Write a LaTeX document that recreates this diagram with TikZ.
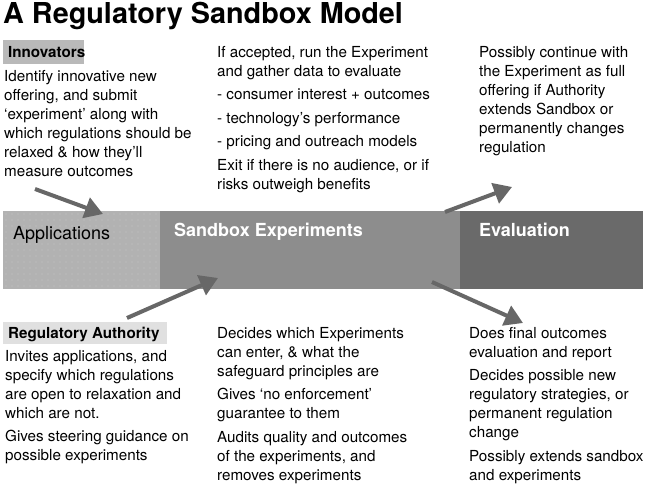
\documentclass[tikz,border=0pt]{standalone}
\usepackage{fontspec}
\setmainfont{TeX Gyre Heros}
\usetikzlibrary{arrows.meta,patterns.meta}
\definecolor{appgray}{HTML}{B2B2B2}
\definecolor{sbxgray}{HTML}{8D8D8D}
\definecolor{evlgray}{HTML}{6A6A6A}
\definecolor{arrgray}{HTML}{676767}
\definecolor{innovgray}{HTML}{B9B9B9}
\definecolor{reggray}{HTML}{E0E0E0}
\tikzset{
  body/.style={anchor=north west, inner sep=0pt, align=left, text=black,
    font=\fontsize{15.2}{19}\selectfont},
  lbl/.style={anchor=base west, inner sep=0pt, font=\fontsize{15.2}{19}\selectfont\bfseries},
  bandbox/.style={draw=none, anchor=north west, inner sep=0pt, minimum height=78pt},
  bandtxt/.style={anchor=base west, inner sep=0pt, font=\fontsize{18}{22}\selectfont},
  flow/.style={draw=arrgray, line width=4pt, -{Triangle[length=18pt,width=21pt]}},
  dotsfill/.style={pattern={Dots[distance=6pt,radius=0.45pt]}, pattern color=white!85!gray},
}
\begin{document}
\begin{tikzpicture}[x=1pt,y=-1pt]
\useasboundingbox[fill=white] (0,0) rectangle (645,484);
% title
\node[anchor=base west, inner sep=0pt, font=\fontsize{28.8}{32}\selectfont\bfseries] (title) at (3,24) {A Regulatory Sandbox Model};
% band
\node[bandbox, fill=appgray, minimum width=157pt] (app) at (3,211) {};
\fill[dotsfill] (app.north west) rectangle (app.south east);
\node[bandbox, fill=sbxgray, minimum width=300pt] (sbx) at (160,211) {};
\node[bandbox, fill=evlgray, minimum width=183pt] (evl) at (460,211) {};
\node[bandtxt] (appT) at (13,239.5) {Applications};
\node[bandtxt, text=white, font=\fontsize{18}{22}\selectfont\bfseries] (sbxT) at (174,236.5) {Sandbox Experiments};
\node[bandtxt, text=white, font=\fontsize{18}{22}\selectfont\bfseries] (evlT) at (479,236.5) {Evaluation};
% innovators
\node[draw=none, fill=innovgray, anchor=north west, inner sep=0pt, minimum width=81pt, minimum height=24pt] (innovBox) at (3,40) {};
\node[lbl] (innovL) at (8,57.5) {Innovators};
\node[body] (innovT) at (4,70) {Identify innovative new\\offering, and submit\\‘experiment’ along with\\which regulations should be\\relaxed \& how they’ll\\measure outcomes};
\node[body] (midT) at (217,46) {If accepted, run the Experiment\\and gather data to evaluate\\[4.5pt]- consumer interest + outcomes\\[4.5pt]- technology’s performance\\[4.5pt]- pricing and outreach models\\[4.5pt]Exit if there is no audience, or if\\risks outweigh benefits};
\node[body] (rightT) at (479,46) {Possibly continue with\\the Experiment as full\\offering if Authority\\extends Sandbox or\\permanently changes\\regulation};
% regulatory authority
\node[draw=none, fill=reggray, anchor=north west, inner sep=0pt, minimum width=164pt, minimum height=22pt] (regBox) at (3,322) {};
\fill[dotsfill] (regBox.north west) rectangle (regBox.south east);
\node[lbl] (regL) at (8,338) {Regulatory Authority};
\node[body] (regT) at (5,350) {Invites applications, and\\specify which regulations\\are open to relaxation and\\which are not.\\[4.5pt]Gives steering guidance on\\possible experiments};
\node[body] (midB) at (217,327) {Decides which Experiments\\can enter, \& what the\\safeguard principles are\\[4.5pt]Gives ‘no enforcement’\\guarantee to them\\[4.5pt]Audits quality and outcomes\\of the experiments, and\\removes experiments};
\node[body] (rightB) at (469,327) {Does final outcomes\\evaluation and report\\[4.5pt]Decides possible new\\regulatory strategies, or\\permanent regulation\\change\\[4.5pt]Possibly extends sandbox\\and experiments};
% arrows
\coordinate (a1s) at (35,189);  \coordinate (a1e) at (103,214);
\coordinate (a2s) at (127,318); \coordinate (a2e) at (218,278);
\coordinate (a3s) at (445,212); \coordinate (a3e) at (512,187);
\coordinate (a4s) at (432,282); \coordinate (a4e) at (523,323);
\draw[flow] (a1s) -- (a1e);
\draw[flow] (a2s) -- (a2e);
\draw[flow] (a3s) -- (a3e);
\draw[flow] (a4s) -- (a4e);
\end{tikzpicture}
\end{document}
